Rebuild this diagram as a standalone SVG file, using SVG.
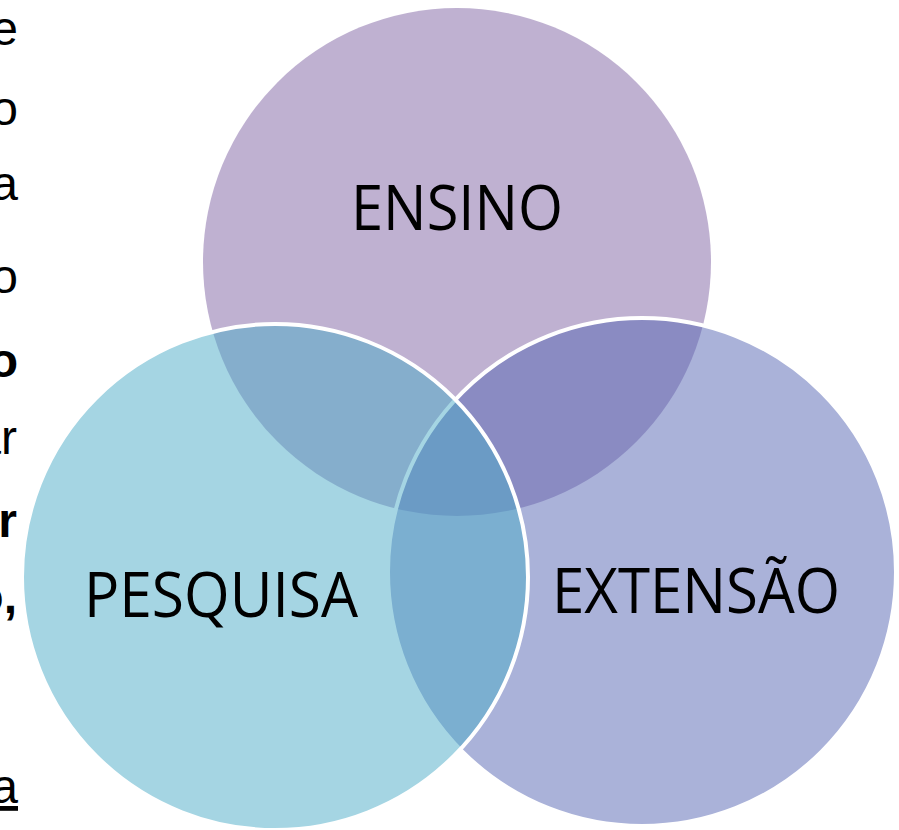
<svg xmlns="http://www.w3.org/2000/svg" width="899" height="830" viewBox="0 0 899 830">
  <style>
    .side { font-family: "Liberation Sans", Arial, sans-serif; font-size: 48px; fill: #000; text-anchor: end; }
    .b { font-weight: bold; }
    .lbl { font-family: "Open Sans", "Liberation Sans", sans-serif; font-size: 62px; fill: #000; text-anchor: middle; }
    .c { fill-opacity: 0.5; }
    .edge { stroke: #fff; stroke-width: 4; }
  </style>
  <rect x="0" y="0" width="899" height="830" fill="#fff"/>
  <g id="side-text">
    <text class="side" x="18" y="45">e</text>
    <text class="side" x="18" y="125">o</text>
    <text class="side" x="18" y="200">a</text>
    <text class="side" x="18" y="293">o</text>
    <text class="side b" x="18" y="377">o</text>
    <text class="side" x="17" y="454" font-size="44">ar</text>
    <text class="side b" x="17" y="537">r</text>
    <text class="side b" x="17" y="613">o,</text>
    <text class="side" x="18" y="803" text-decoration="underline">a</text>
  </g>
  <g id="ensino">
    <circle class="c" cx="457" cy="262" r="254" fill="#7F63A3"/>
    <text class="lbl" x="457" y="230" textLength="212" lengthAdjust="spacingAndGlyphs">ENSINO</text>
  </g>
  <g id="extensao">
    <circle class="c edge" cx="642" cy="572" r="254" fill="#5565B3"/>
    <text class="lbl" x="696" y="613" textLength="288" lengthAdjust="spacingAndGlyphs">EXTENSÃO</text>
  </g>
  <g id="pesquisa">
    <circle class="c edge" cx="275" cy="577" r="253" fill="#4BABC7"/>
    <text class="lbl" x="221" y="617" textLength="274" lengthAdjust="spacingAndGlyphs">PESQUISA</text>
  </g>
  <g id="connectors"/>
</svg>
